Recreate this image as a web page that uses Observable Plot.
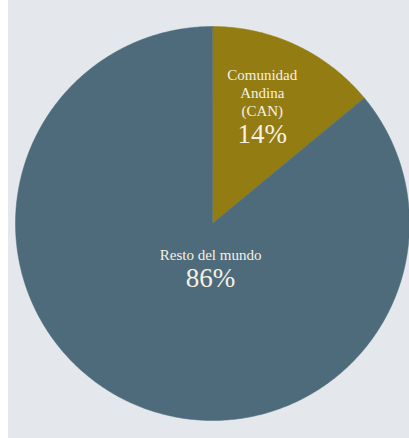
<!DOCTYPE html>
<html>
<head>
<meta charset="utf-8">
<script src="https://cdn.jsdelivr.net/npm/d3@7"></script>
<script src="https://cdn.jsdelivr.net/npm/@observablehq/plot@0.6"></script>
<style>
  html, body { margin: 0; padding: 0; background: #ffffff; }
  #chart svg { display: block; }
</style>
</head>
<body>
<div id="chart"></div>
<script>
// Data
const categories = ["Comunidad Andina (CAN)", "Resto del mundo"];
const nameLabels = ["Comunidad\nAndina\n(CAN)", "Resto del mundo"];
const values = [14, 86];
const colors = ["#937c12", "#4d6b7b"];

// Pie geometry from d3.pie (angles derived from values)
const pie = d3.pie().sort(null).value(d => d)(values);
const slicePoints = [];
pie.forEach((p, i) => {
  slicePoints.push({cat: categories[i], x: 0, y: 0});
  const steps = Math.max(8, Math.ceil((p.endAngle - p.startAngle) / 0.01));
  for (let k = 0; k <= steps; k++) {
    const a = p.startAngle + (p.endAngle - p.startAngle) * k / steps;
    slicePoints.push({cat: categories[i], x: Math.sin(a), y: Math.cos(a)});
  }
});

// label anchors (in unit-circle coordinates), derived from slice mid-angles
const labelRadius = [0.62, 0.24];
const labelAngle = pie.map((p, i) => i === 0 ? (p.startAngle + p.endAngle) / 2 - 0.02 : Math.PI + 0.04);
const labels = pie.map((p, i) => ({
  cat: categories[i],
  name: nameLabels[i],
  pct: `${values[i]}%`,
  x: labelRadius[i] * Math.sin(labelAngle[i]),
  y: labelRadius[i] * Math.cos(labelAngle[i])
}));

const font = "'Liberation Serif', 'DejaVu Serif', serif";
const txt = "#f6f1e3";

const chart = Plot.plot({
  width: 409,
  height: 438,
  marginLeft: 15,
  marginRight: 0,
  marginTop: 26,
  marginBottom: 18,
  x: {domain: [-1, 1], axis: null},
  y: {domain: [-1, 1], axis: null},
  color: {domain: categories, range: colors},
  style: {fontFamily: font, background: "linear-gradient(to right, #ffffff 8px, #e4e8ec 8px)"},
  marks: [
    Plot.line(slicePoints, {x: "x", y: "y", z: "cat", fill: "cat", stroke: "cat", strokeWidth: 0.5, curve: "linear-closed"}),
    Plot.text([labels[0]], {x: "x", y: "y", text: "name", fill: txt, fontSize: 15, lineHeight: 1.2, lineAnchor: "bottom", dy: 4}),
    Plot.text([labels[0]], {x: "x", y: "y", text: "pct", fill: txt, fontSize: 27, lineAnchor: "bottom", dy: 31}),
    Plot.text([labels[1]], {x: "x", y: "y", text: "name", fill: txt, fontSize: 15, lineAnchor: "bottom", dy: -11}),
    Plot.text([labels[1]], {x: "x", y: "y", text: "pct", fill: txt, fontSize: 27, lineAnchor: "bottom", dy: 16})
  ]
});
document.getElementById("chart").append(chart);
</script>
</body>
</html>
